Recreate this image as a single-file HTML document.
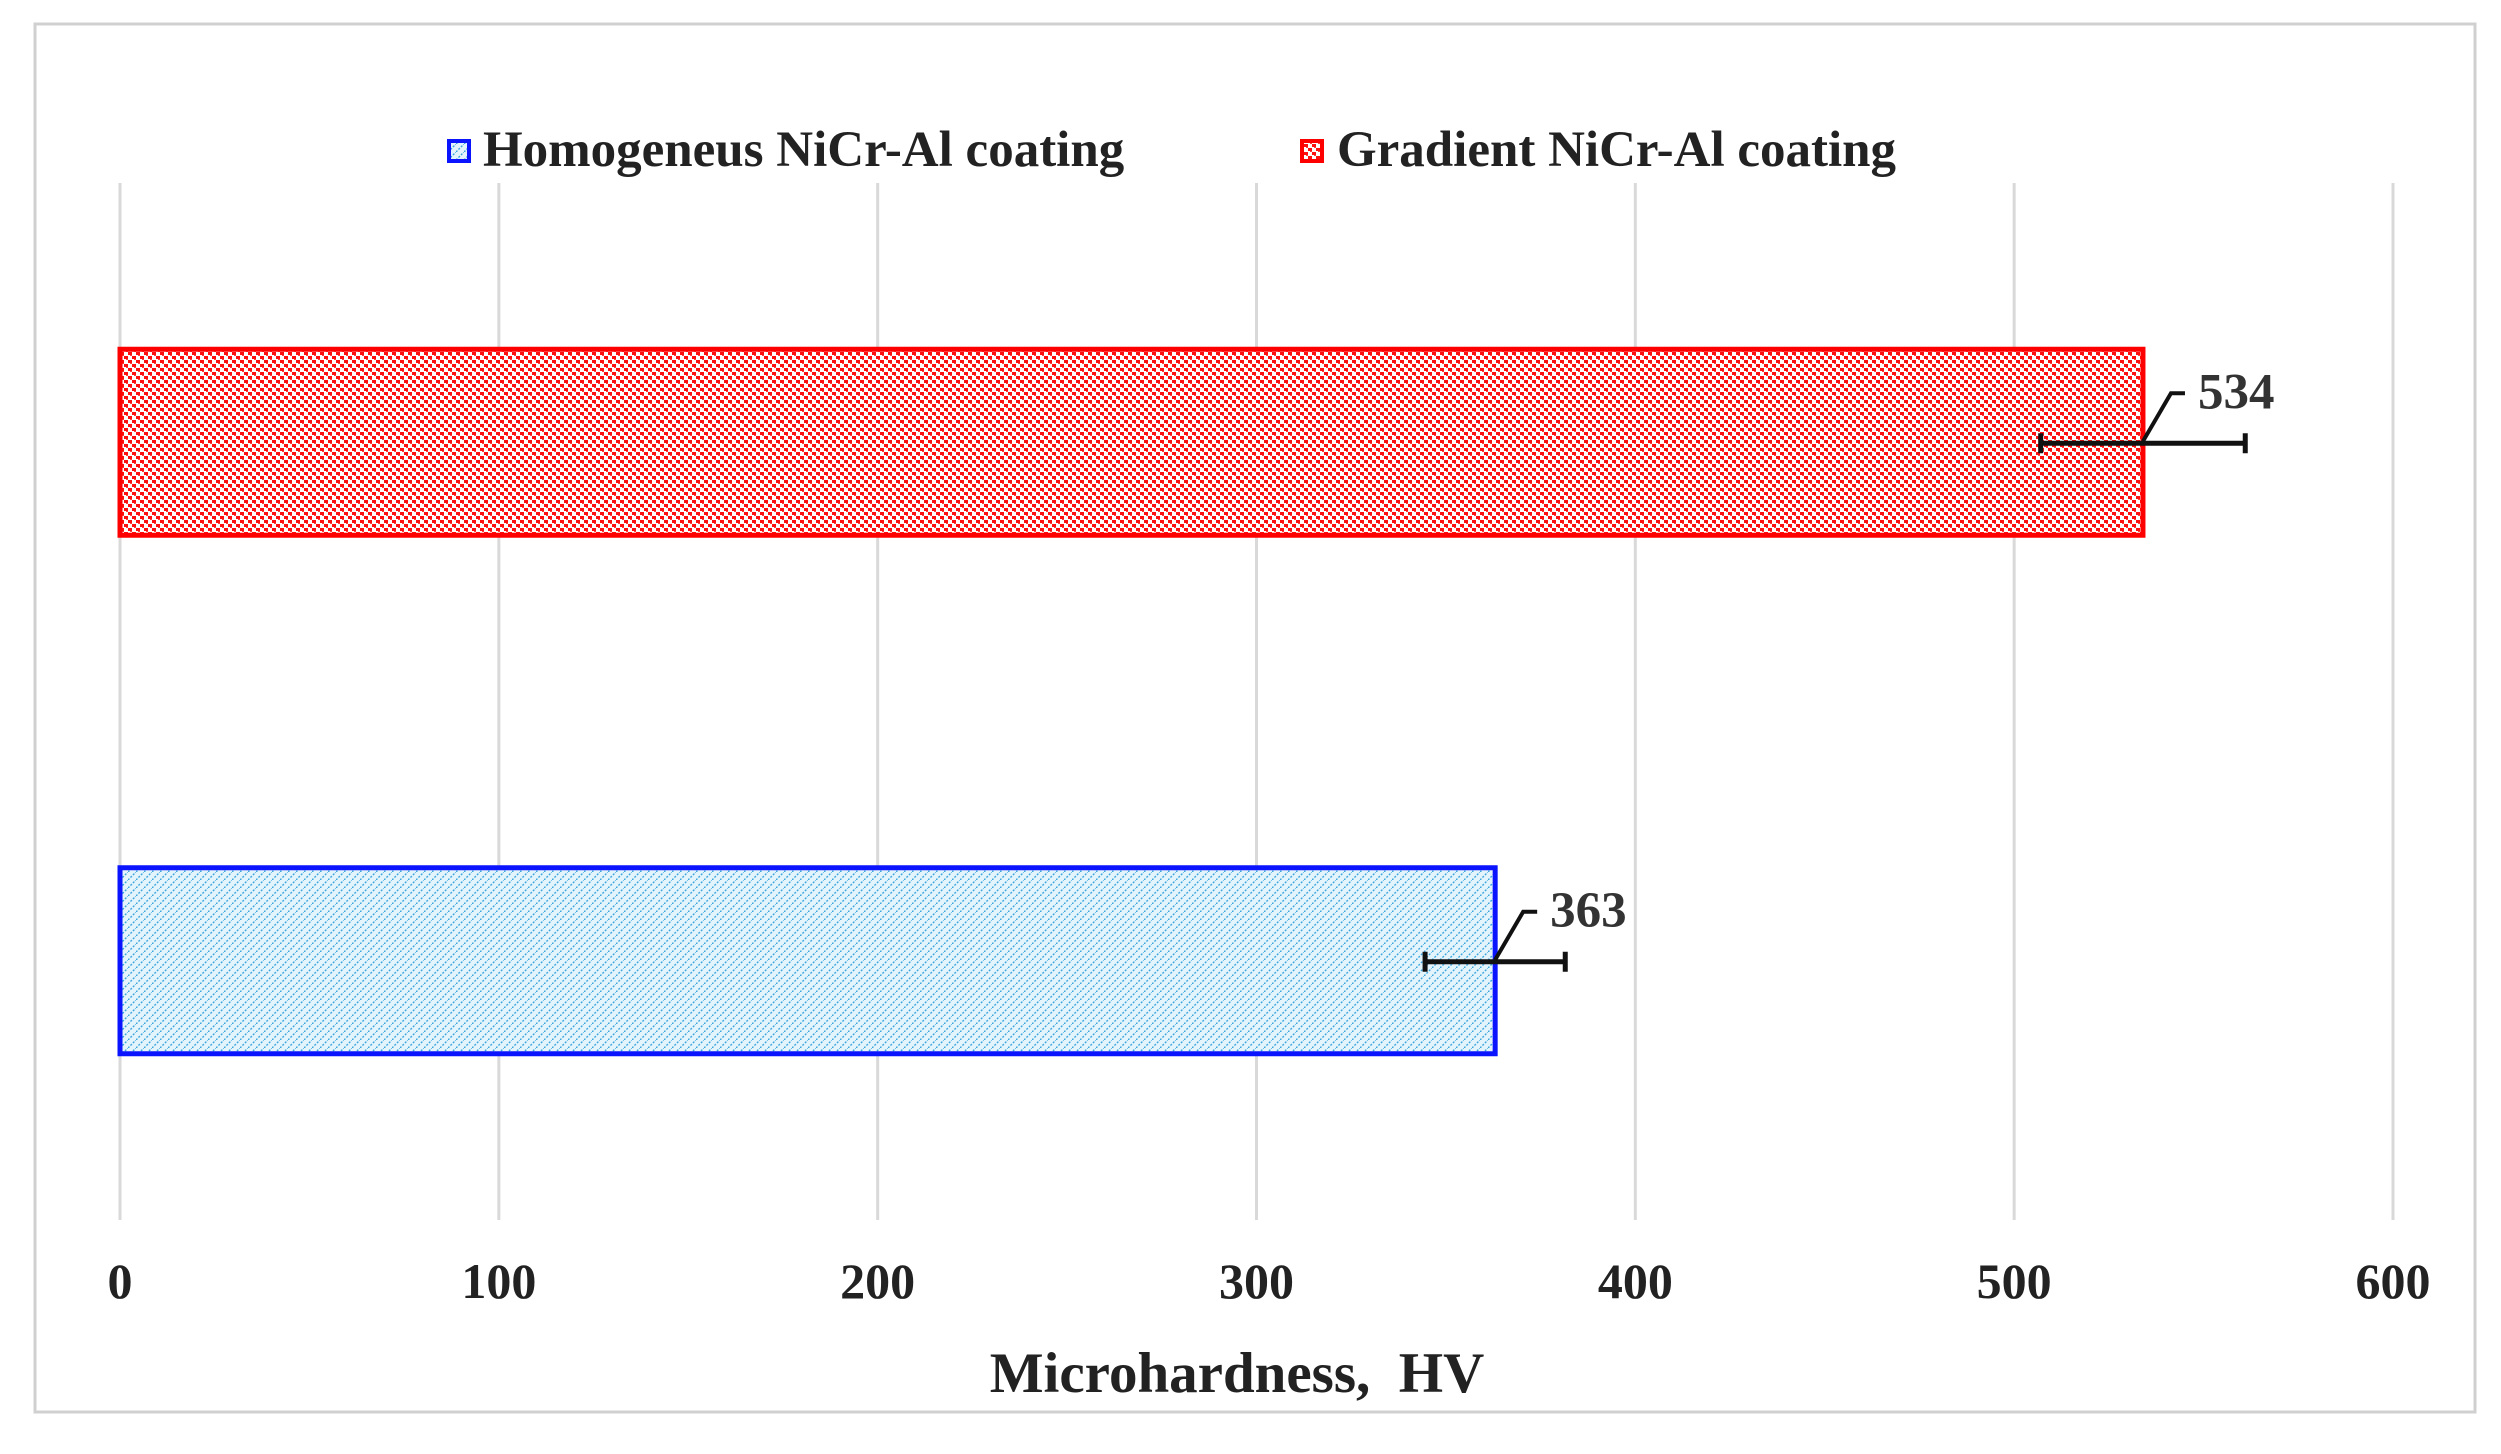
<!DOCTYPE html>
<html><head><meta charset="utf-8"><style>
html,body{margin:0;padding:0;background:#fff;}
svg{display:block;font-family:"Liberation Serif",serif;}
</style></head><body>
<svg id="chart" width="2501" height="1454" viewBox="0 0 2501 1454">
<defs>
<pattern id="redPat" width="8" height="8" patternUnits="userSpaceOnUse">
<rect width="8" height="8" fill="#ffffff"/>
<rect x="0" y="0" width="4" height="3" fill="#ff1010"/>
<rect x="4" y="4" width="4" height="3" fill="#ff1010"/>
<rect x="2" y="3" width="2" height="1" fill="#ff4040"/>
<rect x="6" y="7" width="2" height="1" fill="#ff4040"/>
</pattern>
<pattern id="bluePat" width="8" height="8" patternUnits="userSpaceOnUse">
<rect width="8" height="8" fill="#e4f4fc"/>
<path d="M0 8 L8 0 M-2 2 L2 -2 M6 10 L10 6" stroke="#3ba6dc" stroke-width="1.4" stroke-dasharray="2 1.5"/>
</pattern>
</defs>
<rect x="35" y="24" width="2440" height="1388" fill="#fff" stroke="#d0d0d0" stroke-width="3"/>
<g id="grid"></g>
<g id="bars"></g>
<g id="ticks"></g>
<text x="1237" y="1392" text-anchor="middle" font-size="57" font-weight="bold" fill="#222" xml:space="preserve">Microhardness,  HV</text>
<g>
<rect x="449" y="141" width="20" height="20" fill="url(#bluePat)" stroke="#0a14ff" stroke-width="4"/>
<text x="483" y="166" font-size="51" font-weight="bold" fill="#222">Homogeneus NiCr-Al coating</text>
<rect x="1302" y="141" width="20" height="20" fill="url(#redPat)" stroke="#ff0000" stroke-width="4"/>
<text x="1337" y="166" font-size="51" font-weight="bold" fill="#222">Gradient NiCr-Al coating</text>
</g>
</svg>
<script>
const categories = ["Homogeneous NiCr-Al coating", "Gradient NiCr-Al coating"];
const values = [363, 534];
const errors = [18.5, 27];
const tickValues = [0, 100, 200, 300, 400, 500, 600];
const NS = "http://www.w3.org/2000/svg";
const x0 = 120, x1 = 2393, xMax = 600;
const xs = v => x0 + (v / xMax) * (x1 - x0);
const bandTop = 183, bandBottom = 1220;
const bandH = (bandBottom - bandTop) / categories.length;
const barY = i => bandBottom - (i + 0.5) * bandH;
const barH = 186;
function mk(tag, attrs, parent) {
  const e = document.createElementNS(NS, tag);
  for (const k in attrs) e.setAttribute(k, attrs[k]);
  parent.appendChild(e);
  return e;
}
const grid = document.getElementById('grid');
const ticks = document.getElementById('ticks');
tickValues.forEach(t => {
  const l = mk('line', {x1: xs(t), x2: xs(t), y1: bandTop, y2: bandBottom, stroke: '#d9d9d9', 'stroke-width': 3}, grid);
  
  
  const tx = mk('text', {x: xs(t), y: 1298, 'text-anchor': 'middle', 'font-size': 50, 'font-weight': 'bold', fill: '#222'}, ticks);
  tx.textContent = t;
  
  
});
const bars = document.getElementById('bars');
const fills = ['url(#bluePat)', 'url(#redPat)'];
const strokes = ['#0a14ff', '#ff0000'];
values.forEach((v, i) => {
  const cy = barY(i);
  const r = mk('rect', {x: xs(0), y: cy - barH / 2, width: xs(v) - xs(0), height: barH, fill: fills[i], stroke: strokes[i], 'stroke-width': 5}, bars);
  
  
  const ey = cy + 1;
  const g = mk('g', {stroke: '#111', 'stroke-width': 5}, bars);
  
  
  mk('line', {x1: xs(v - errors[i]), x2: xs(v + errors[i]), y1: ey, y2: ey}, g);
  mk('line', {x1: xs(v - errors[i]), x2: xs(v - errors[i]), y1: ey - 10, y2: ey + 10}, g);
  mk('line', {x1: xs(v + errors[i]), x2: xs(v + errors[i]), y1: ey - 10, y2: ey + 10}, g);
  const ll = mk('polyline', {points: `${xs(v)},${ey - 2} ${xs(v) + 28},${ey - 50} ${xs(v) + 42},${ey - 50}`, fill: 'none', stroke: '#111', 'stroke-width': 4}, bars);
  
  
  const lb = mk('text', {x: xs(v) + 55, y: ey - 35, 'font-size': 51, 'font-weight': 'bold', fill: '#333'}, bars);
  lb.textContent = v;
  
  
});
</script>
</body></html>
